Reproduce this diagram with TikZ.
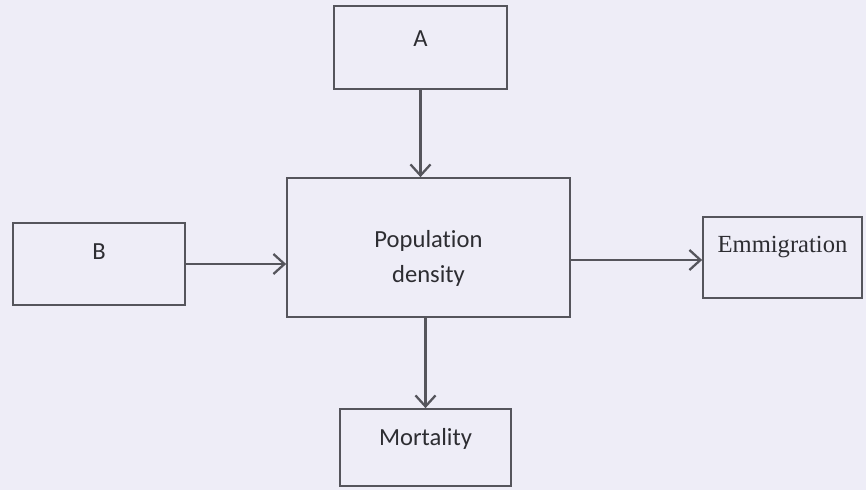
\documentclass[tikz,border=0pt]{standalone}
\usepackage{fontspec}
\setmainfont{Carlito}[Ligatures=CommonOff]
\newfontfamily\timesfont{Liberation Serif}
\usetikzlibrary{arrows.meta}
\definecolor{paper}{RGB}{238,237,247}
\definecolor{ink}{RGB}{85,85,92}
\definecolor{txt}{RGB}{45,45,50}

\begin{document}
\begin{tikzpicture}[x=0.02cm,y=-0.02cm, line width=1pt, draw=ink,
  box/.style={draw=ink, rectangle, inner sep=0pt},
  lbl/.style={text=txt, font=\fontsize{14}{17}\selectfont},
  flow/.style={ink, line width=1.3pt, -{Straight Barb[length=2.2mm,width=4mm]}}]
\fill[paper] (0,0) rectangle (866,490);
\useasboundingbox (0,0) rectangle (866,490);

\node[box, minimum width=3.46cm, minimum height=1.66cm] (a) at (420.5,47.5) {};
\node[box, minimum width=5.66cm, minimum height=2.78cm] (pop) at (428.5,247.5) {};
\node[box, minimum width=3.44cm, minimum height=1.64cm] (b) at (99,264) {};
\node[box, minimum width=3.18cm, minimum height=1.62cm] (emm) at (782.5,257.5) {};
\node[box, minimum width=3.42cm, minimum height=1.54cm] (mort) at (425.5,447.5) {};

% box texts sit off the centre
\node[lbl] (a-t) at ([yshift=0.18cm]a.center) {A};
\node[lbl, align=center, font=\fontsize{14}{20}\selectfont] (pop-t) at ([yshift=-0.22cm]pop.center) {Population\\density};
\node[lbl] (b-t) at ([yshift=0.24cm]b.center) {B};
\node[lbl, font=\timesfont\fontsize{14}{17}\selectfont] (emm-t) at ([yshift=0.2cm]emm.center) {Emmigration};
\node[lbl] (mort-t) at ([yshift=0.18cm]mort.center) {Mortality};

\draw[flow] (a.south) -- (a.south |- pop.north);
\draw[flow] (b.east) -- (b.east -| pop.west);
\draw[flow] ([yshift=-0.05cm]emm.west -| pop.east) -- ([yshift=-0.05cm]emm.west);
\draw[flow] (mort.north |- pop.south) -- (mort.north);

\end{tikzpicture}
\end{document}
